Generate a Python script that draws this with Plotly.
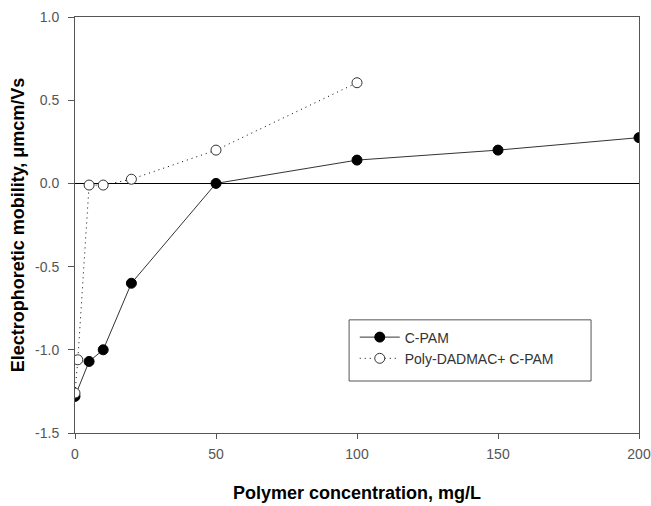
import plotly.graph_objects as go

# Polymer dose (mg/L) and measured electrophoretic mobility
cpam_conc = [0, 5, 10, 20, 50, 100, 150, 200]
cpam_mobility = [-1.28, -1.07, -1.0, -0.6, 0.0, 0.14, 0.2, 0.275]

dual_conc = [0, 1, 5, 10, 20, 50, 100]
dual_mobility = [-1.26, -1.06, -0.01, -0.01, 0.025, 0.2, 0.605]

x_ticks = [0, 50, 100, 150, 200]
y_ticks = [-1.5, -1.0, -0.5, 0.0, 0.5, 1.0]
y_tick_labels = ["-1.5", "-1.0", "-0.5", "0.0", "0.5", "1.0"]

FONT = "Liberation Sans, Arial, sans-serif"

fig = go.Figure()

fig.add_trace(go.Scatter(
    x=cpam_conc, y=cpam_mobility, mode="lines+markers", name="C-PAM",
    line=dict(color="#333333", width=1),
    marker=dict(symbol="circle", size=10, color="black",
                line=dict(color="black", width=1)),
))

fig.add_trace(go.Scatter(
    x=dual_conc, y=dual_mobility, mode="lines+markers",
    name="Poly-DADMAC+ C-PAM",
    line=dict(color="black", width=1, dash="1px,4px"),
    marker=dict(symbol="circle", size=10, color="white",
                line=dict(color="#333333", width=1)),
))

# Legend frame
fig.add_shape(type="rect", xref="paper", yref="paper",
              x0=0.486, x1=0.915, y0=0.125, y1=0.272,
              line=dict(color="#555555", width=1), fillcolor="white",
              layer="below")

fig.update_layout(
    width=651, height=506,
    margin=dict(l=75, r=12, t=17, b=73),
    paper_bgcolor="white", plot_bgcolor="white",
    font=dict(family=FONT, size=13, color="#444444"),
    showlegend=True,
    legend=dict(x=0.496, y=0.268, xanchor="left", yanchor="top",
                bgcolor="rgba(0,0,0,0)", borderwidth=0,
                font=dict(family=FONT, size=14, color="#333333"),
                tracegroupgap=0, itemwidth=40),
    xaxis=dict(
        range=[0, 200], tickvals=x_ticks, ticks="outside", ticklen=5,
        showgrid=False, zeroline=False, showline=True, linecolor="#555555",
        linewidth=1, mirror=True, tickcolor="#555555", automargin=False,
        ticklabelstandoff=3,
        tickfont=dict(family=FONT, size=14, color="#555555"),
        title=dict(text="<b>Polymer concentration, mg/L</b>",
                   font=dict(family=FONT, size=18, color="black"), standoff=25),
    ),
    yaxis=dict(
        range=[-1.5, 1.0], tickvals=y_ticks, ticktext=y_tick_labels,
        ticks="outside", ticklen=6,
        showgrid=False, zeroline=True, zerolinecolor="black", zerolinewidth=1,
        showline=True, linecolor="#555555", linewidth=1, mirror=True,
        tickcolor="#555555", automargin=False, ticklabelstandoff=6,
        tickfont=dict(family=FONT, size=14, color="#555555"),
        title=dict(text="<b>Electrophoretic mobility, \u03bcmcm/Vs</b>",
                   font=dict(family=FONT, size=18, color="black"), standoff=5),
    ),
)

fig.write_html("out.html")
